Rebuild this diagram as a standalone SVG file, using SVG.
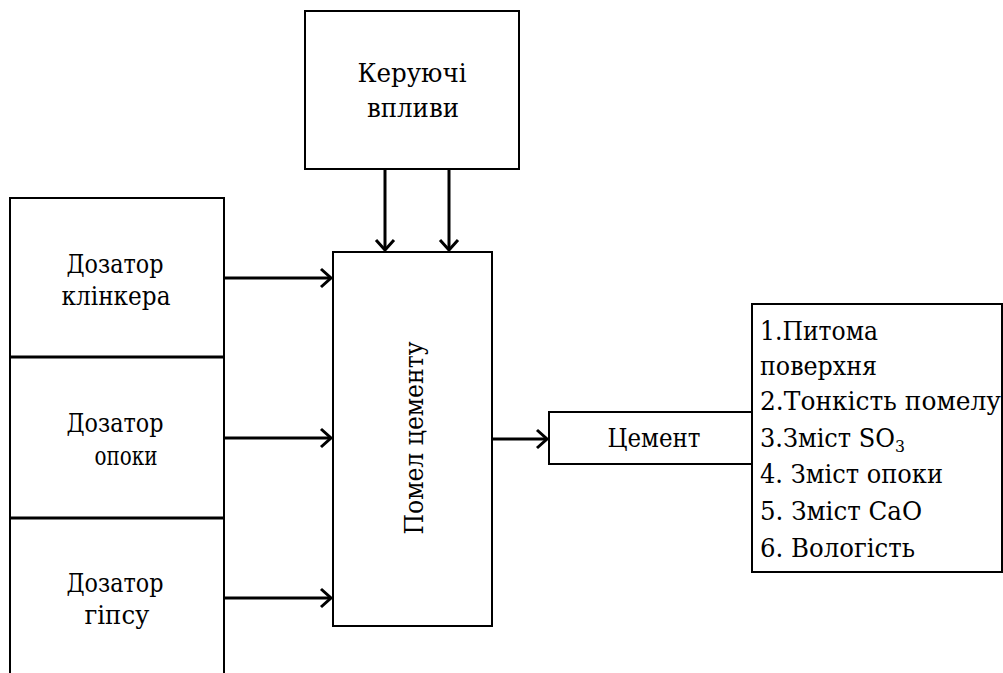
<svg xmlns="http://www.w3.org/2000/svg" width="1003" height="673" viewBox="0 0 1003 673">
  <defs>
    <marker id="chev" viewBox="-12 -12 14 24" refX="0" refY="0" markerWidth="14" markerHeight="24" markerUnits="userSpaceOnUse" orient="auto">
      <path d="M-10,-9 L0,0 L-10,9" fill="none" stroke="#000" stroke-width="3"/>
    </marker>
  </defs>

  <!-- dosing units column -->
  <g id="dosers" fill="#fff" stroke="#000">
    <rect x="10" y="198" width="214" height="490" stroke-width="2"/>
    <line x1="10" y1="357" x2="224" y2="357" stroke-width="3"/>
    <line x1="10" y1="518" x2="224" y2="518" stroke-width="3"/>
  </g>
  <g id="doser-clinker" text-anchor="middle">
    <text x="115" y="273" font-family="DejaVu Serif, Liberation Serif, serif" font-size="26" textLength="97" lengthAdjust="spacingAndGlyphs">Дозатор</text>
    <text x="116" y="305" font-family="DejaVu Serif, Liberation Serif, serif" font-size="26" textLength="109" lengthAdjust="spacingAndGlyphs">клінкера</text>
  </g>
  <g id="doser-opoka" text-anchor="middle">
    <text x="115" y="432" font-family="DejaVu Serif, Liberation Serif, serif" font-size="26" textLength="97" lengthAdjust="spacingAndGlyphs">Дозатор</text>
    <text x="126" y="465" font-family="DejaVu Serif, Liberation Serif, serif" font-size="26" textLength="63" lengthAdjust="spacingAndGlyphs">опоки</text>
  </g>
  <g id="doser-gypsum" text-anchor="middle">
    <text x="115" y="592" font-family="DejaVu Serif, Liberation Serif, serif" font-size="26" textLength="97" lengthAdjust="spacingAndGlyphs">Дозатор</text>
    <text x="117" y="624" font-family="DejaVu Serif, Liberation Serif, serif" font-size="26" textLength="65" lengthAdjust="spacingAndGlyphs">гіпсу</text>
  </g>

  <!-- control inputs -->
  <g id="control" text-anchor="middle">
    <rect x="305" y="11" width="214" height="158" fill="#fff" stroke="#000" stroke-width="2"/>
    <text x="412" y="82" font-family="DejaVu Serif, Liberation Serif, serif" font-size="26" textLength="109" lengthAdjust="spacingAndGlyphs">Керуючі</text>
    <text x="413" y="117" font-family="DejaVu Serif, Liberation Serif, serif" font-size="26" textLength="92" lengthAdjust="spacingAndGlyphs">впливи</text>
  </g>

  <!-- grinding -->
  <g id="grinding" text-anchor="middle">
    <rect x="333" y="252" width="159" height="374" fill="#fff" stroke="#000" stroke-width="2"/>
    <text transform="translate(423,438) rotate(-90)" font-family="DejaVu Serif, Liberation Serif, serif" font-size="26" textLength="193" lengthAdjust="spacingAndGlyphs">Помел цементу</text>
  </g>

  <!-- product -->
  <g id="cement" text-anchor="middle">
    <rect x="549" y="412" width="203" height="52" fill="#fff" stroke="#000" stroke-width="2"/>
    <text x="654" y="447" font-family="DejaVu Serif, Liberation Serif, serif" font-size="26" textLength="93" lengthAdjust="spacingAndGlyphs">Цемент</text>
  </g>

  <!-- quality indicators -->
  <g id="indicators">
    <rect x="752" y="304" width="250" height="268" fill="#fff" stroke="#000" stroke-width="2"/>
    <text x="760" y="340" font-family="DejaVu Serif, Liberation Serif, serif" font-size="26" textLength="118" lengthAdjust="spacingAndGlyphs">1.Питома</text>
    <text x="760" y="375" font-family="DejaVu Serif, Liberation Serif, serif" font-size="26" textLength="117" lengthAdjust="spacingAndGlyphs">поверхня</text>
    <text x="760" y="410" font-family="DejaVu Serif, Liberation Serif, serif" font-size="26" textLength="241" lengthAdjust="spacingAndGlyphs">2.Тонкість помелу</text>
    <text x="760" y="447" font-family="DejaVu Serif, Liberation Serif, serif" font-size="26" textLength="145" lengthAdjust="spacingAndGlyphs">3.Зміст SO<tspan font-size="17" dy="5">3</tspan></text>
    <text x="760" y="483" font-family="DejaVu Serif, Liberation Serif, serif" font-size="26" textLength="183" lengthAdjust="spacingAndGlyphs">4. Зміст опоки</text>
    <text x="760" y="520" font-family="DejaVu Serif, Liberation Serif, serif" font-size="26" textLength="162" lengthAdjust="spacingAndGlyphs">5. Зміст CaO</text>
    <text x="760" y="557" font-family="DejaVu Serif, Liberation Serif, serif" font-size="26" textLength="155" lengthAdjust="spacingAndGlyphs">6. Вологість</text>
  </g>

  <!-- connectors -->
  <g id="connectors" stroke="#000" stroke-width="3" fill="none" marker-end="url(#chev)">
    <line x1="224" y1="278" x2="331" y2="278"/>
    <line x1="224" y1="438" x2="331" y2="438"/>
    <line x1="224" y1="598" x2="331" y2="598"/>
    <line x1="385" y1="169" x2="385" y2="250"/>
    <line x1="449" y1="169" x2="449" y2="250"/>
    <line x1="492" y1="439" x2="547" y2="439"/>
  </g>
</svg>
